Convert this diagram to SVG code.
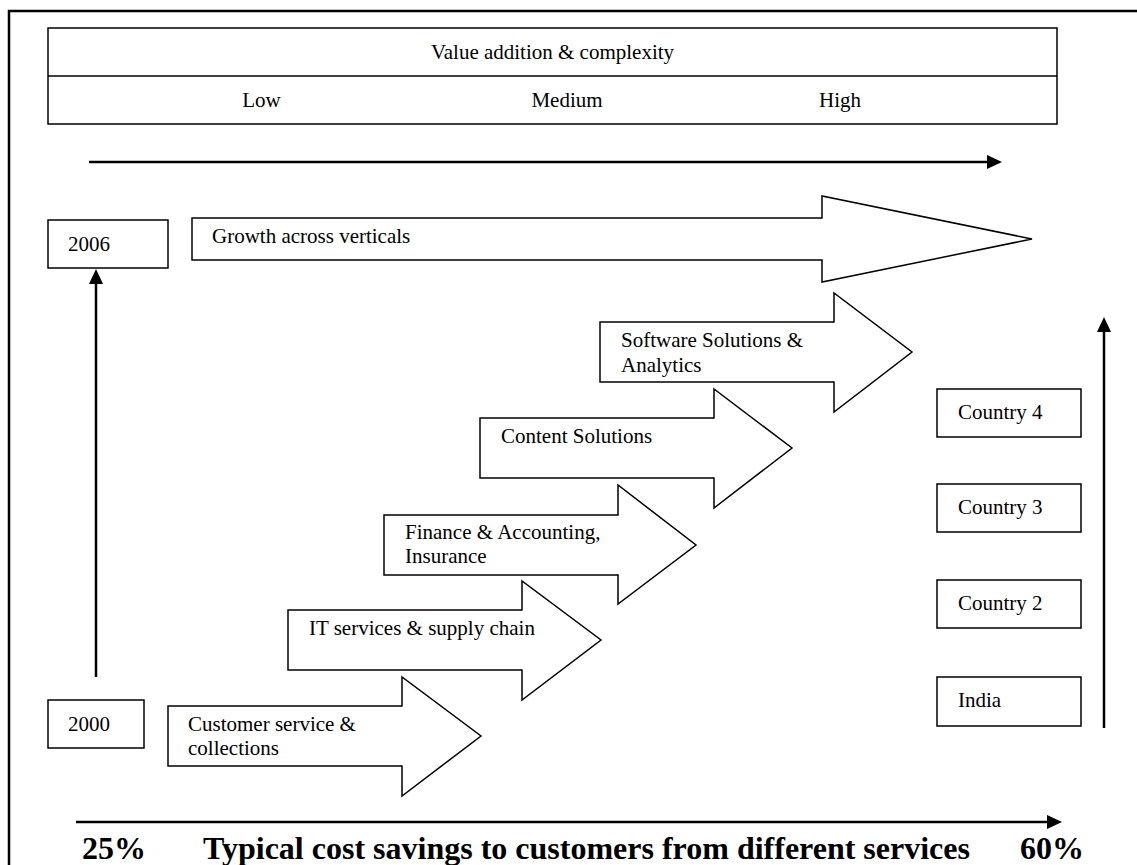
<svg xmlns="http://www.w3.org/2000/svg" width="1137" height="865" viewBox="0 0 1137 865">
<style>
.t{font-family:"Liberation Serif","Times New Roman",serif;font-size:21px;fill:#000}
.b{font-family:"Liberation Serif","Times New Roman",serif;font-size:32px;font-weight:bold;fill:#000}
.box{fill:#fff;stroke:#000;stroke-width:1.5}
.blk{fill:#fff;stroke:#000;stroke-width:1.5;stroke-linejoin:miter}
.ax{stroke:#000;stroke-width:2.5;fill:none}
</style>
<defs>
<marker id="ah" markerUnits="userSpaceOnUse" markerWidth="16" markerHeight="16" refX="0" refY="7" orient="auto" viewBox="0 0 16 14">
<path d="M0,0 L15,7 L0,14 z" fill="#000"/>
</marker>
</defs>
<rect x="0" y="0" width="1137" height="865" fill="#fff"/>
<rect x="9" y="11" width="1200" height="900" fill="none" stroke="#000" stroke-width="2.5"/>

<g id="scale-header">
<rect class="box" x="48" y="28" width="1009" height="96"/>
<line x1="48" y1="76" x2="1057" y2="76" stroke="#000" stroke-width="1.5"/>
<text class="t" x="552.5" y="59" text-anchor="middle">Value addition &amp; complexity</text>
<text class="t" x="261.5" y="107" text-anchor="middle">Low</text>
<text class="t" x="567" y="107" text-anchor="middle">Medium</text>
<text class="t" x="840" y="107" text-anchor="middle">High</text>
</g>

<g id="year-2006">
<rect class="box" x="48" y="220" width="120" height="48"/>
<text class="t" x="68" y="251">2006</text>
</g>
<g id="year-2000">
<rect class="box" x="48" y="700" width="96" height="48"/>
<text class="t" x="68" y="731">2000</text>
</g>

<g id="growth">
<polygon class="blk" points="192,218 822,218 822,196 1032,239 822,282 822,260 192,260"/>
<text class="t" x="212" y="243">Growth across verticals</text>
</g>
<g id="software">
<polygon class="blk" points="600,322 834,322 834,293 912,352 834,412 834,382 600,382"/>
<text class="t" x="621" y="347">Software Solutions &amp;</text>
<text class="t" x="621" y="372">Analytics</text>
</g>
<g id="content">
<polygon class="blk" points="480,418 714,418 714,389 792,448 714,508 714,478 480,478"/>
<text class="t" x="501" y="443">Content Solutions</text>
</g>
<g id="finance">
<polygon class="blk" points="384,515 618,515 618,485 696,545 618,604 618,575 384,575"/>
<text class="t" x="405" y="539">Finance &amp; Accounting,</text>
<text class="t" x="405" y="563">Insurance</text>
</g>
<g id="it-services">
<polygon class="blk" points="288,610 522,610 522,581 601,640 522,700 522,670 288,670"/>
<text class="t" x="309" y="635">IT services &amp; supply chain</text>
</g>
<g id="customer-service">
<polygon class="blk" points="168,706 402,706 402,677 481,736 402,796 402,766 168,766"/>
<text class="t" x="188" y="731">Customer service &amp;</text>
<text class="t" x="188" y="755">collections</text>
</g>

<g id="country-4">
<rect class="box" x="937" y="389" width="144" height="48"/>
<text class="t" x="958" y="419">Country 4</text>
</g>
<g id="country-3">
<rect class="box" x="937" y="484" width="144" height="48"/>
<text class="t" x="958" y="514">Country 3</text>
</g>
<g id="country-2">
<rect class="box" x="937" y="580" width="144" height="48"/>
<text class="t" x="958" y="610">Country 2</text>
</g>
<g id="india">
<rect class="box" x="937" y="677" width="144" height="49"/>
<text class="t" x="958" y="707">India</text>
</g>

<g id="connectors">
<line class="ax" x1="89" y1="162" x2="987" y2="162" marker-end="url(#ah)"/>
<line class="ax" x1="96" y1="677" x2="96" y2="284" marker-end="url(#ah)"/>
<line class="ax" x1="1104" y1="728" x2="1104" y2="332" marker-end="url(#ah)"/>
<line class="ax" x1="76" y1="822" x2="1047" y2="822" marker-end="url(#ah)"/>
</g>

<g id="savings-axis-labels">
<text class="b" x="82" y="859">25%</text>
<text class="b" x="203" y="859">Typical cost savings to customers from different services</text>
<text class="b" x="1020" y="859">60%</text>
</g>
</svg>
